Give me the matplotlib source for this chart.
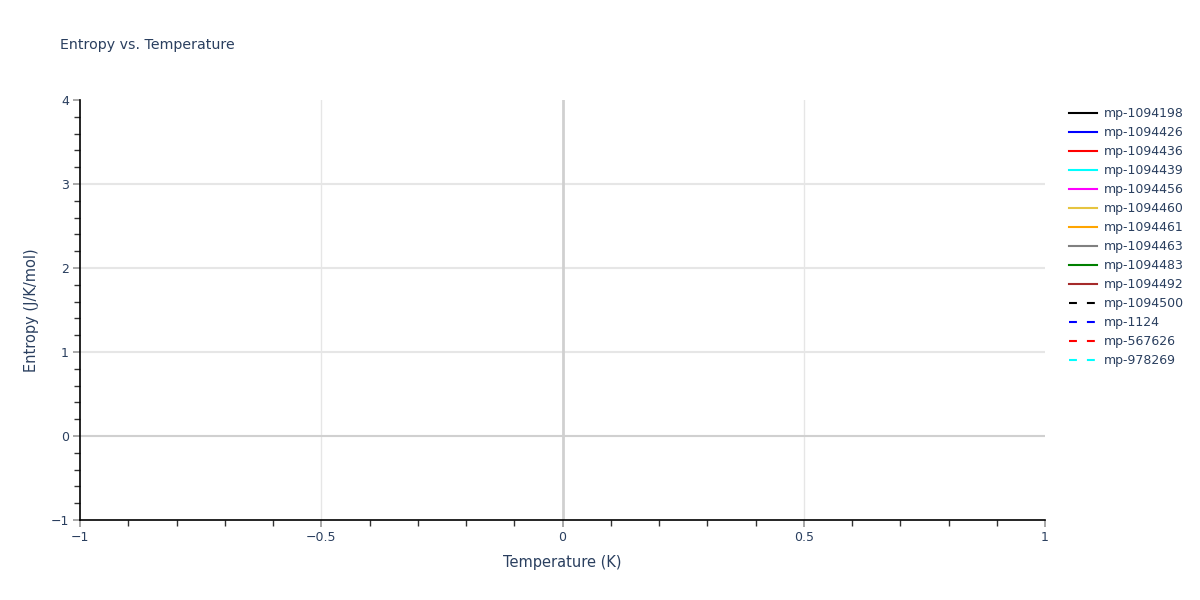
import matplotlib.pyplot as plt
from matplotlib.ticker import MultipleLocator, FuncFormatter

# legend entries (the traces themselves carry no data)
materials = ['mp-1094198', 'mp-1094426', 'mp-1094436', 'mp-1094439', 'mp-1094456',
             'mp-1094460', 'mp-1094461', 'mp-1094463', 'mp-1094483', 'mp-1094492',
             'mp-1094500', 'mp-1124', 'mp-567626', 'mp-978269']
colors = ['black', 'blue', 'red', 'cyan', 'magenta', '#e6c440', 'orange', 'gray',
          'green', 'brown', 'black', 'blue', 'red', 'cyan']
styles = ['-'] * 10 + ['--'] * 4
temperature = []
entropy = []

x_range = [-1, 1]
y_range = [-1, 4]
x_grid = [-0.5, 0.5]
y_grid = [1, 2, 3]

txt = '#2a3f5f'
plt.rcParams['font.family'] = ['DejaVu Sans']

fig = plt.figure(figsize=(12, 6), dpi=100)
ax = fig.add_axes([80 / 1200, 80 / 600, 965 / 1200, 420 / 600])

for name, c, ls in zip(materials, colors, styles):
    line, = ax.plot(temperature, entropy, color=c, linewidth=1.5, label=name)
    if ls == '--':
        line.set_dashes((3.8, 4.8))

ax.set_xlim(x_range)
ax.set_ylim(y_range)
ax.xaxis.set_major_locator(MultipleLocator(0.5))
ax.xaxis.set_minor_locator(MultipleLocator(0.1))
ax.yaxis.set_major_locator(MultipleLocator(1))
ax.yaxis.set_minor_locator(MultipleLocator(0.2))

fmt = FuncFormatter(lambda v, p: ('%g' % v).replace('-', '\u2212'))
ax.xaxis.set_major_formatter(fmt)
ax.yaxis.set_major_formatter(fmt)

for v in x_grid:
    ax.axvline(v, color='#e6e6e6', linewidth=1, zorder=0)
for v in y_grid:
    ax.axhline(v, color='#e6e6e6', linewidth=1.5, zorder=0)
ax.axhline(0, color='#d0d0d0', linewidth=1.5, zorder=1)
ax.axvline(0, color='#d0d0d0', linewidth=2, zorder=1)

for s in ['top', 'right']:
    ax.spines[s].set_visible(False)
for s in ['left', 'bottom']:
    ax.spines[s].set_color('black')
    ax.spines[s].set_linewidth(1.2)

ax.tick_params(which='major', direction='out', length=5, width=1.2, color='#999999',
               labelcolor=txt, labelsize=9, pad=3)
ax.tick_params(axis='y', which='major', pad=3)
ax.tick_params(which='minor', direction='out', length=4, width=1, color='#333333')

ax.set_xlabel('Temperature (K)', color=txt, fontsize=10.5, labelpad=8)
ax.set_ylabel('Entropy (J/K/mol)', color=txt, fontsize=10.5, labelpad=8)
fig.text(60 / 1200, 1 - 45 / 600, 'Entropy vs. Temperature', color=txt, fontsize=10.2,
         va='center', ha='left')

leg = ax.legend(loc='upper left', bbox_to_anchor=(1069 / 1200, 1 - 107 / 600),
                bbox_transform=fig.transFigure, frameon=False, fontsize=9,
                handlelength=2.25, handletextpad=0.55, labelspacing=0.48,
                borderaxespad=0, borderpad=0)
for t in leg.get_texts():
    t.set_color(txt)

fig.savefig('out.png', dpi=100)
